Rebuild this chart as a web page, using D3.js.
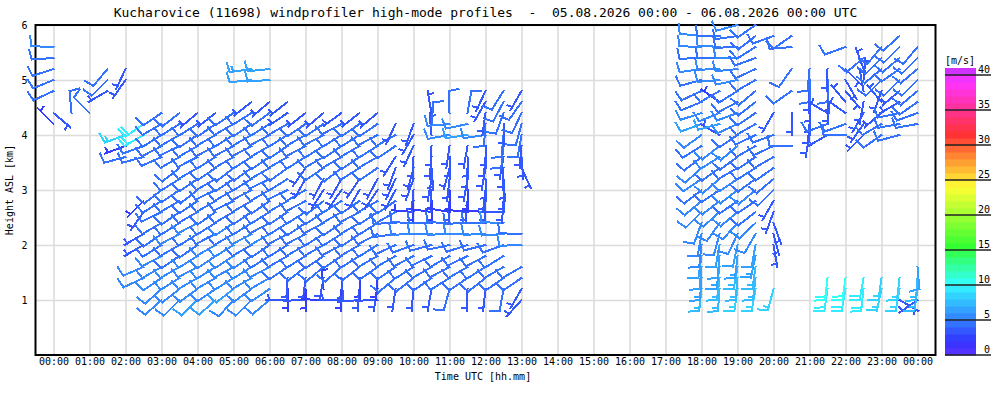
<!DOCTYPE html>
<html>
<head>
<meta charset="utf-8">
<script src="https://cdn.jsdelivr.net/npm/d3@7"></script>
<style>
  body { margin: 0; background: #fff; }
  svg { display: block; }
  text { font-family: "DejaVu Sans Mono", monospace; fill: #000; }
</style>
</head>
<body>
<svg id="chart" width="1000" height="400"></svg>
<script>
const _ = null;

// tick labels
const hourTicks = ["00:00","01:00","02:00","03:00","04:00","05:00","06:00","07:00","08:00","09:00","10:00","11:00",
  "12:00","13:00","14:00","15:00","16:00","17:00","18:00","19:00","20:00","21:00","22:00","23:00","00:00"];
const heightTicks = [1, 2, 3, 4, 5, 6];
const speedTicks = [0, 5, 10, 15, 20, 25, 30, 35, 40];

// range gates of the profiler [km]
const levels = [1.0,1.2,1.4,1.6,1.8,2.0,2.2,2.4,2.6,2.8,3.0,3.2,3.4,3.6,3.8,4.0,4.2,4.4,4.6,4.8,5.0,5.2,5.4,5.6,5.8,6.0];

// profile time [h UTC] and index of its lowest gate
const profileTime  = [0.0, 0.5, 1.0, 1.5, 2.0, 2.5,
  3.0, 3.5, 4.0, 4.5, 5.0, 5.5, 6.0, 6.5, 7.0, 7.5, 8.0, 8.5, 9.0, 9.5, 10.0, 10.5, 11.0, 11.5, 12.0, 12.5, 13.0,
  18.0, 18.5, 19.0, 19.5, 20.0,
  20.5, 21.0, 21.5, 22.0, 22.5, 23.0, 23.5, 24.0,
  21.5, 22.0, 22.5, 23.0, 23.5, 24.0];
const profileStart = [16, 17, 17, 19, 13, 2,
  0, 0, 0, 0, 0, 0, 0, 0, 0, 0, 0, 0, 0, 0, 0, 0, 0, 0, 0, 0, 0,
  0, 0, 0, 0, 0,
  14, 15, 15, 15, 15, 15, 15, 16,
  1, 1, 1, 1, 0, 0];

// wind direction [deg], bottom-up per profile
const profileDir = [
  [315,130,_,245,248,252,266,272],
  [355],
  [315],
  [240,225,220],
  [255,250,250,_,_,_,_,215,205],
  [245,247,_,240,240,_,215,225,_,_,_,255,250,240,235],
  [228,228,236,240,242,238,235,240,244,238,232,_,_,246,242,238,240,236],
  [225,232,238,240,236,240,242,238,235,240,236,238,232,240,244,240,238,232],
  [226,234,240,242,238,235,238,242,240,236,232,236,240,243,240,236,238,230],
  [228,236,240,238,236,240,243,238,235,240,244,240,236,238,242,240,235,232],
  [222,232,238,241,237,238,240,236,240,244,240,236,232,240,242,238,240,236],
  [225,234,240,238,236,240,242,238,236,240,242,238,234,238,242,240,236,238,232,_,264,262],
  [230,236,240,242,238,236,240,242,238,235,240,244,240,236,240,242,238,234,230,_,266,264],
  [270,180,182,236,240,238,242,238,236,240,244,238,234,240,236,238,240,236,232],
  [268,178,186,232,238,240,242,236,238,242,240,210,215,238,242,240,236,232],
  [272,355,190,230,236,240,238,242,236,232,212,208,236,240,238,242,236,230],
  [270,182,175,228,236,242,238,236,240,238,215,210,232,240,236,238,242,234],
  [265,185,180,232,238,240,236,240,242,236,210,214,238,236,240,238,236,232],
  [268,190,184,235,240,238,242,238,236,240,214,208,236,240,238,242,236,230],
  [_,188,230,236,240,245,262,268,240,236,208,205,200,212,236,240,205],
  [_,185,232,238,242,250,268,272,275,182,185,200,195,182,205,210,200],
  [_,190,235,240,244,255,270,270,278,180,182,190,175,185,182,355,5,350],
  [_,195,238,242,240,258,268,272,280,182,178,186,195,180,188,260,265,358],
  [_,182,236,240,244,252,270,268,276,185,180,190,182,178,190,262,258,10],
  [_,186,232,238,242,256,268,270,274,182,186,178,190,185,180,262,184,188,210,205],
  [_,190,235,240,238,250,266,272,270,184,180,176,182,190,186,185,180,200,208,212],
  [222,210,236,240,_,268,272,_,_,_,_,_,155,175,185,190,195,205,215,210],
  [_,186,184,185,188,186,190,200,225,230,232,236,228,232,238,234,250,252,248,245,255,262,268,272,276],
  [_,184,186,188,185,190,195,215,228,232,236,230,234,238,232,300,255,248,305,240,265,268,270,274,270],
  [_,188,185,190,186,192,205,222,230,235,232,236,240,234,230,236,245,250,242,238,258,264,270,268,262,255],
  [_,190,186,188,192,190,210,226,232,236,230,234,238,236,240,244,240,236,232,230,240,245,250,238,232,235],
  [_,195,_,_,_,170,165,160,200,210,225,230,235,240,245,250,_,210,_,_,_,_,_,_,250],
  [270,_,_,180,_,235,_,215,_,265,235],
  [190,185,180,178,182,180,185],
  [240,250,300,180,175,180,182],
  [270,250,305,320,140,150,135,_,250],
  [225,215,210,190,350,5,340,230],
  [235,240,230,320,200,225,230,225,220],
  [255,260,258,240,230,225,235,230,225,228],
  [260,250,235,230,225,230,225,220],
  [188,186],
  [190,188],
  [186,190],
  [192,188],
  [120,190,186],
  [235,188,184,175]
];

// wind speed [m/s], bottom-up per profile
const profileSpd = [
  [2,3,_,4.5,4.5,4.5,4,5],
  [4],
  [4],
  [3.5,4,4],
  [4,2.5,8,_,_,_,_,3.5,3.5],
  [5.5,5,_,3,3,_,3,2,_,_,_,4,4,9,9.5],
  [5,5.5,5.5,5,5,4.5,4.5,4,4.5,4,4,_,_,4.5,4,4,4.5,4],
  [5.5,5,5.5,5,4.5,4.5,5,4.5,4.5,4,4,4.5,4,4.5,4,4,4.5,4],
  [6,5.5,5,5,5,4.5,4.5,5,4.5,4.5,4,4,4.5,4,4,4.5,4,3.5],
  [6,5.5,5.5,5,5,5,4.5,4.5,4.5,4,4.5,4,4,4.5,4,4,4,3.5],
  [5.5,6,5,5,5,5,4.5,5,4.5,4.5,4,4,4.5,4,4,4.5,4,4],
  [5.5,5.5,5,5,5,4.5,5,4.5,4.5,4.5,4,4,4.5,4,4,4.5,4,4,3.5,_,6,6.5],
  [5,5.5,5,5,4.5,4.5,5,4.5,4.5,4,4,4.5,4,4,4.5,4,4,4,3.5,_,6,6],
  [3,2.5,3,4.5,4.5,4.5,4,4.5,4,4,4.5,4,4,4.5,4,4,4,3.5,3.5],
  [3,2.5,3,4.5,4.5,4,4.5,4,4,4.5,4,3,3.5,4,4,4.5,4,3.5],
  [2.5,2.5,3,4,4.5,4.5,4,4,4.5,4,3,3,4,4,4.5,4,4,3.5],
  [3,2.5,3,4,4.5,4.5,4.5,4,4,4,3.5,3,4,4,4,4.5,4,3.5],
  [3,3,2.5,4.5,4.5,4,4.5,4.5,4,4,3,3.5,4,4.5,4,4,4,3.5],
  [3,3,2.5,4.5,4,4.5,4.5,4,4,4,3.5,3,4,4,4.5,4,4,3.5],
  [_,3,4,4.5,4.5,4.5,4.5,4,4,4,3,3,3,3.5,4,4,3.5],
  [_,3,4,4.5,4.5,4.5,5,4.5,2.5,2.5,3,3,3,3,3.5,3.5,3.5],
  [_,3.5,4.5,4.5,4,4.5,5,4.5,2.5,2.5,3,3,3,3.5,3,3.5,4,3.5],
  [_,4,4.5,4.5,4.5,4.5,5,4.5,2.5,3,2.5,3,3.5,3.5,3,5.5,5.5,4],
  [_,3.5,4.5,4,4.5,4.5,5,4.5,2.5,3,2.5,3,3,3.5,3,6,5.5,4],
  [_,3.5,4.5,4.5,4.5,4.5,5,4.5,2.5,3,3,3,3.5,3,3.5,5.5,4,3.5,3.5,3.5],
  [_,4,4.5,4.5,4.5,4.5,5,5,3,3,3,3,3.5,3.5,4,4,3.5,4,4,4],
  [3.5,3.5,4,4,_,5,4.5,_,_,_,_,_,3,3.5,3.5,4,4,4,4,3.5],
  [_,7,6.5,6,6,5.5,5.5,5,5,5,4.5,5,5,4.5,4.5,5,6,5.5,4.5,4.5,4.5,5,4.5,5,5],
  [_,7.5,7,6.5,6,6,5.5,5,5,5,4.5,5,4.5,5,5,3,6,5,2.5,4.5,5,5,4.5,5,4.5],
  [_,8,7.5,7,6.5,6,5.5,5,5,4.5,5,5,4.5,4.5,5,4.5,5,5,4.5,4.5,5,5,5,4.5,4.5,5],
  [_,8,7.5,7,6.5,6,5.5,5,4.5,4.5,5,4.5,4.5,4.5,4.5,4,4.5,4.5,4,4,4,4.5,4.5,4,4,4],
  [_,8.5,_,_,_,3,3,3,3.5,3.5,4,4,4,4,4,4,_,3,_,_,_,_,_,_,4],
  [4,_,_,3,_,4,_,4,_,4.5,4.5],
  [3.5,3.5,3,3.5,3.5,4,4],
  [3.5,4,3.5,3.5,3.5,4,3.5],
  [4,4,3.5,3.5,3,3,3,_,4],
  [3.5,3.5,3.5,3.5,3,3,3.5,4],
  [4,4,3.5,3,3.5,4,4,4,4],
  [4,4,4,3.5,3.5,4,4,4,4,4.5],
  [4,4,4,4,4,4,4.5,4.5],
  [9.5,10],
  [9.5,10],
  [9.5,9.5],
  [8,8.5],
  [3,8,8.5],
  [3.5,7.5,7,6]
];

const svg = d3.select("#chart");
const plotL = 35.5, plotR = 935.5, plotT = 25, plotB = 355;

const x = d3.scaleLinear().domain([-0.5, 24.5]).range([plotL, plotR]);
const y = d3.scaleLinear().domain([0, 6]).range([plotB, plotT]);
const cy = d3.scaleLinear().domain([0, 40]).range([plotB, 75]);

// colour table: hue ramp blue -> cyan -> green -> yellow -> red -> magenta
const hue = d3.scaleLinear()
  .domain([0, 2, 10, 15.5, 24, 31.5, 39, 41])
  .range([252, 240, 182, 120, 60, 0, -60, -78]);
const bandColor = v => d3.hsl((hue(Math.floor(v) + 0.5) + 360) % 360, 1, 0.6).formatHex();

// title
svg.append("text")
  .attr("x", (plotL + plotR) / 2).attr("y", 17)
  .attr("text-anchor", "middle")
  .style("font-size", "13px").style("white-space", "pre")
  .text("Kucharovice (11698) windprofiler high-mode profiles  -  05.08.2026 00:00 - 06.08.2026 00:00 UTC");

// grid + axes
const xAxis = svg.append("g")
  .attr("transform", `translate(0,${plotB})`)
  .call(d3.axisBottom(x)
    .tickValues(d3.range(hourTicks.length))
    .tickFormat((d, i) => hourTicks[i])
    .tickSize(-(plotB - plotT))
    .tickPadding(3));
const yAxis = svg.append("g")
  .attr("transform", `translate(${plotL},0)`)
  .call(d3.axisLeft(y)
    .tickValues(heightTicks)
    .tickFormat(d3.format("d"))
    .tickSize(-(plotR - plotL))
    .tickPadding(8));
[xAxis, yAxis].forEach(g => {
  g.select(".domain").remove();
  g.selectAll(".tick line").attr("stroke", "#dcdcdc").attr("stroke-width", 1.6);
  g.selectAll(".tick text").style("font-size", "10px").attr("fill", "#000");
});

svg.append("text")
  .attr("x", 483).attr("y", 380)
  .attr("text-anchor", "middle").style("font-size", "10px")
  .text("Time UTC [hh.mm]");
svg.append("text")
  .attr("transform", `translate(13,${(plotT + plotB) / 2}) rotate(-90)`)
  .attr("text-anchor", "middle").style("font-size", "10px")
  .text("Height ASL [km]");

// frame
svg.append("rect")
  .attr("x", plotL).attr("y", plotT)
  .attr("width", plotR - plotL).attr("height", plotB - plotT)
  .attr("fill", "none").attr("stroke", "#000").attr("stroke-width", 2);

// wind barbs
const barbs = [];
profileTime.forEach((t, p) => {
  profileDir[p].forEach((dir, i) => {
    const spd = profileSpd[p][i];
    if (dir === null || spd === null || spd === undefined) return;
    barbs.push({ t: t, h: levels[profileStart[p] + i], dir: dir, spd: spd });
  });
});

const staffLen = 22, featherLen = 10, featherGap = 3.5;
const fAng = 80 * Math.PI / 180;
function barbPath(d) {
  const px = x(d.t), py = y(d.h);
  const a = d.dir * Math.PI / 180;
  const ux = Math.sin(a), uy = -Math.cos(a);   // towards wind source
  const rx = -uy, ry = ux;                      // right-hand side
  const fx = rx * Math.sin(fAng) + ux * Math.cos(fAng);
  const fy = ry * Math.sin(fAng) + uy * Math.cos(fAng);
  const tx = px + staffLen * ux, ty = py + staffLen * uy;
  let s = `M${px},${py}L${tx},${ty}`;
  const n = Math.round(d.spd / 2.5);
  const full = Math.floor(n / 2), half = n % 2;
  let pos = 0;
  for (let k = 0; k < full; k++) {
    const bx = tx - pos * ux, by = ty - pos * uy;
    s += `M${bx},${by}l${featherLen * fx},${featherLen * fy}`;
    pos += featherGap;
  }
  if (half) {
    if (full === 0) pos = featherGap;
    const bx = tx - pos * ux, by = ty - pos * uy;
    s += `M${bx},${by}l${featherLen / 2 * fx},${featherLen / 2 * fy}`;
  }
  return s;
}

svg.append("g")
  .selectAll("path")
  .data(barbs)
  .join("path")
  .attr("d", barbPath)
  .attr("fill", "none")
  .attr("stroke", d => bandColor(d.spd))
  .attr("stroke-width", 2)
  .attr("stroke-linecap", "square")
  .attr("shape-rendering", "crispEdges");

// colour bar
const bands = d3.range(0, 41);
const cbar = svg.append("g");
cbar.selectAll("rect")
  .data(bands)
  .join("rect")
  .attr("x", 945).attr("width", 31)
  .attr("y", d => cy(d + 1))
  .attr("height", d => cy(d) - cy(d + 1) + 0.5)
  .attr("fill", d => bandColor(d));
cbar.selectAll("line")
  .data(speedTicks)
  .join("line")
  .attr("x1", 945).attr("x2", 991)
  .attr("y1", d => cy(d)).attr("y2", d => cy(d))
  .attr("stroke", "#222").attr("stroke-width", 1.3);
cbar.selectAll("text")
  .data(speedTicks)
  .join("text")
  .attr("x", 990).attr("y", d => cy(d) - 2)
  .attr("text-anchor", "end").style("font-size", "10px")
  .text(d => d);
svg.append("text")
  .attr("x", 945).attr("y", 64)
  .style("font-size", "10px")
  .text("[m/s]");
</script>
</body>
</html>
